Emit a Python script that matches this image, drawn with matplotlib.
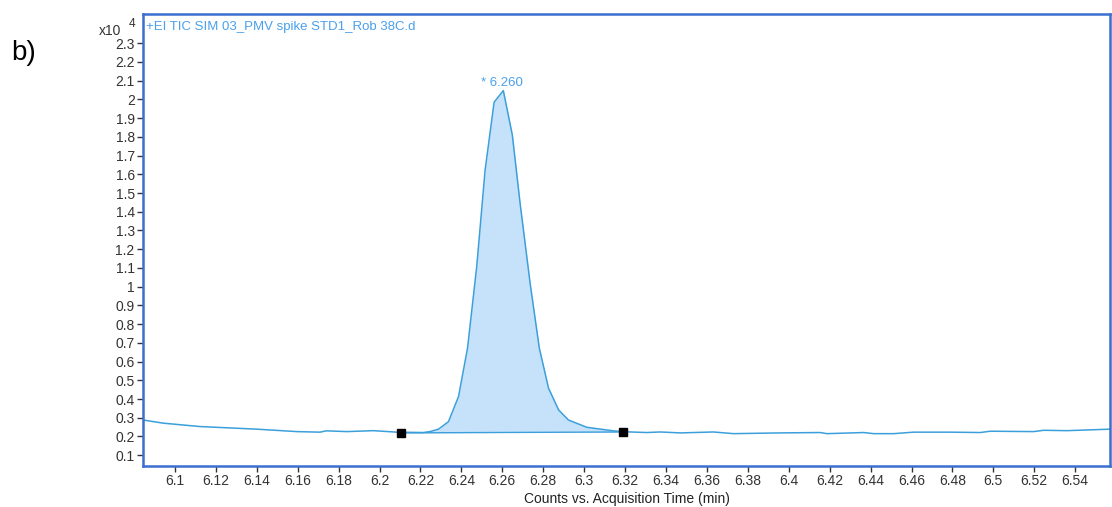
import numpy as np
import matplotlib
matplotlib.use("Agg")
import matplotlib.pyplot as plt
from matplotlib.ticker import FixedLocator, FormatStrFormatter

plt.rcParams["font.family"] = ["Liberation Sans", "DejaVu Sans"]

# acquisition time (min) and counts (x10^4)
times = [6.0844, 6.0943, 6.1122, 6.140, 6.1595, 6.1709, 6.174, 6.184, 6.197,
         6.2084, 6.2214, 6.2247, 6.2288, 6.2337, 6.2386, 6.2430, 6.2475,
         6.2516, 6.2560, 6.2605, 6.2649, 6.2687, 6.2736, 6.2781, 6.2826,
         6.2875, 6.2923, 6.3013, 6.3143, 6.3200, 6.3307, 6.3372, 6.347,
         6.3632, 6.373, 6.3958, 6.4154, 6.4187, 6.4366, 6.4415, 6.4513,
         6.461, 6.479, 6.4936, 6.4985, 6.5197, 6.5246, 6.536, 6.557]
counts = [0.288, 0.271, 0.253, 0.239, 0.226, 0.223, 0.230, 0.226, 0.231,
          0.223, 0.221, 0.226, 0.239, 0.279, 0.413, 0.671, 1.107,
          1.623, 1.985, 2.047, 1.810, 1.445, 1.018, 0.671, 0.458,
          0.342, 0.288, 0.249, 0.230, 0.225, 0.221, 0.224, 0.219,
          0.224, 0.215, 0.219, 0.221, 0.215, 0.221, 0.215, 0.215,
          0.223, 0.223, 0.221, 0.228, 0.226, 0.233, 0.231, 0.239]

# integration baseline end points
base_t = [6.2105, 6.3189]
base_y = [0.219, 0.224]

peak_time = 6.260
peak_height = 2.047

title = "+EI TIC SIM 03_PMV spike STD1_Rob 38C.d"
xticks = [6.1, 6.12, 6.14, 6.16, 6.18, 6.2, 6.22, 6.24, 6.26, 6.28, 6.3,
          6.32, 6.34, 6.36, 6.38, 6.4, 6.42, 6.44, 6.46, 6.48, 6.5, 6.52, 6.54]
yticks = [0.1, 0.2, 0.3, 0.4, 0.5, 0.6, 0.7, 0.8, 0.9, 1, 1.1, 1.2, 1.3,
          1.4, 1.5, 1.6, 1.7, 1.8, 1.9, 2, 2.1, 2.2, 2.3]

line_col = "#3b9fdb"
fill_col = "#c6e2fb"
text_col = "#4aa0ec"
frame_col = "#3a6fcf"
tick_col = "#333333"

t = np.array(times)
c = np.array(counts)

fig = plt.figure(figsize=(11.12, 5.07), dpi=100)
ax = fig.add_axes([0.1286, 0.0815, 0.8696, 0.8909])

# filled peak area between trace and baseline
inside = (t > base_t[0]) & (t < base_t[1])
ft = np.concatenate([[base_t[0]], t[inside], [base_t[1]]])
fc = np.concatenate([[np.interp(base_t[0], t, c)], c[inside],
                     [np.interp(base_t[1], t, c)]])
fb = np.interp(ft, base_t, base_y)
ax.fill_between(ft, np.maximum(fc, fb), fb, color=fill_col, lw=0)
ax.plot(base_t, base_y, color=line_col, lw=1.0)
ax.plot(t, c, color=line_col, lw=1.1)
ax.plot(base_t, base_y, ls="none", marker="s", ms=6, color="black")

ax.text(peak_time, peak_height + 0.01, "* %.3f" % peak_time,
        ha="center", va="bottom", color=text_col, fontsize=9.5)
ax.text(0.003, 0.985, title, transform=ax.transAxes, ha="left", va="top",
        color=text_col, fontsize=9.5)

ax.set_xlim(6.0844, 6.557)
ax.set_ylim(0.044, 2.456)
ax.xaxis.set_major_locator(FixedLocator(xticks))
ax.yaxis.set_major_locator(FixedLocator(yticks))
ax.xaxis.set_major_formatter(FormatStrFormatter("%g"))
ax.yaxis.set_major_formatter(FormatStrFormatter("%g"))
ax.tick_params(axis="both", direction="out", length=4, width=1,
               colors=tick_col, labelsize=10, pad=2)
for s in ax.spines.values():
    s.set_color(frame_col)
    s.set_linewidth(1.8)

ax.set_xlabel("Counts vs. Acquisition Time (min)", fontsize=10,
              color="#222222", labelpad=3)

fig.text(0.089, 0.925, "x10", fontsize=10, color=tick_col, ha="left",
         va="bottom")
fig.text(0.116, 0.94, "4", fontsize=8.5, color=tick_col, ha="left",
         va="bottom")
fig.text(0.010, 0.87, "b)", fontsize=20, color="black", ha="left",
         va="bottom")

fig.savefig("out.png", dpi=100)
